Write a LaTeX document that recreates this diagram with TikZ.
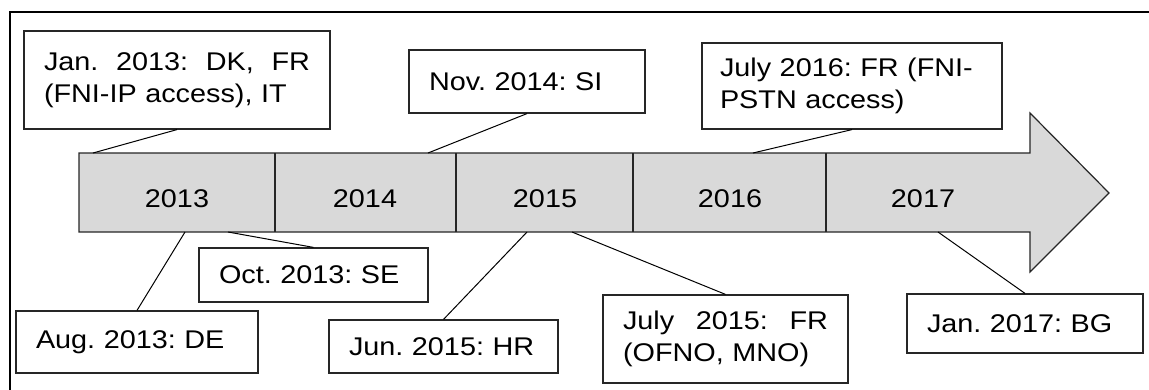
\documentclass[tikz,border=0pt]{standalone}
\usepackage{fontspec}
\setmainfont{Liberation Sans}[FakeStretch=1.125]
\definecolor{bargray}{RGB}{217,217,217}
\frenchspacing
\begin{document}
\begin{tikzpicture}[x=0.5pt, y=-0.5pt,
    box/.style={draw=black!85, line width=0.6pt, fill=white, align=left, inner xsep=10pt,
        inner ysep=0pt, font=\fontsize{12.8}{16}\selectfont},
    yr/.style={font=\fontsize{12.8}{15}\selectfont},
    con/.style={line width=0.5pt}]
    \useasboundingbox (0,0) rectangle (1149,390);
    \draw[line width=1pt] (1160,12) -- (10,12) -- (10,400);

    % timeline arrow
    \draw[fill=bargray, draw=black!85, line width=0.6pt] (79,153) -- (1030,153) -- (1030,113)
        -- (1109,193) -- (1030,272) -- (1030,232) -- (79,232) -- cycle;
    \foreach \x in {275,456,633,826}
        \draw[draw=black!85, line width=0.6pt] (\x,153) -- (\x,232);

    \node[yr] (y2013) at (177,199) {2013};
    \node[yr] (y2014) at (365,199) {2014};
    \node[yr] (y2015) at (545,199) {2015};
    \node[yr] (y2016) at (730,199) {2016};
    \node[yr] (y2017) at (923,199) {2017};

    \coordinate (t1) at (93,153);
    \coordinate (t2) at (428,153);
    \coordinate (t3) at (753,153);
    \coordinate (b1) at (185,232);
    \coordinate (b2) at (228,232);
    \coordinate (b3) at (527,232);
    \coordinate (b4) at (572,232);
    \coordinate (b5) at (938,232);

    % events above
    \node[box, text width=133pt, minimum height=49pt] (jan13) at (177,80)
        {Jan.\hfill 2013:\hfill DK,\hfill FR\\(FNI-IP access), IT};
    \node[box, text width=98pt, minimum height=31.5pt] (nov14) at (527,81.5) {Nov. 2014: SI};
    \node[box, text width=132pt, inner xsep=9pt, minimum height=43pt] (jul16) at (852,86)
        {July 2016: FR (FNI-\\PSTN access)};

    % events below
    \node[box, text width=101pt, minimum height=31pt] (aug13) at (137,342) {Aug. 2013: DE};
    \node[box, text width=94.5pt, minimum height=27pt] (oct13) at (313.5,275) {Oct. 2013: SE};
    \node[box, text width=94.5pt, minimum height=26.5pt] (jun15) at (443.5,346.5) {Jun. 2015: HR};
    \node[box, text width=102.5pt, minimum height=44pt] (jul15) at (725.5,339)
        {July\hfill 2015:\hfill FR\\(OFNO, MNO)};
    \node[box, text width=98pt, minimum height=29.5pt] (jan17) at (1025,323.5) {Jan. 2017: BG};

    \draw[con] (jan13.south) to (t1);
    \draw[con] (nov14.south) to (t2);
    \draw[con] (jul16.south) to (t3);
    \draw[con] (aug13.north) to (b1);
    \draw[con] (oct13.north) to (b2);
    \draw[con] (jun15.north) to (b3);
    \draw[con] (jul15.north) to (b4);
    \draw[con] (jan17.north) to (b5);
\end{tikzpicture}
\end{document}
